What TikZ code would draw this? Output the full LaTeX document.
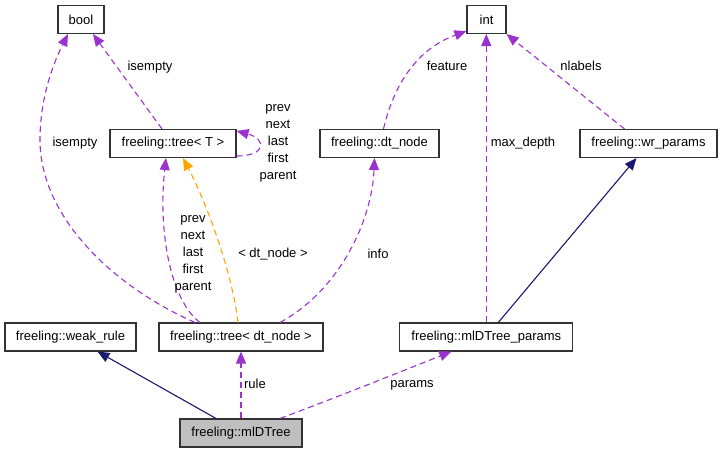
\documentclass[tikz,border=0pt]{standalone}
\usepackage{fontspec}
\setmainfont{Liberation Sans}
\usetikzlibrary{arrows.meta}
\definecolor{edgepurple}{HTML}{9A32CD}
\definecolor{edgeorange}{HTML}{FFA500}
\definecolor{edgenavy}{HTML}{191970}
\begin{document}
\begin{tikzpicture}[x=1pt,y=-1pt,
  cls/.style={draw=black!80, line width=1.1pt, minimum height=28pt, inner sep=0pt,
    font=\fontsize{13}{17}\selectfont, fill=white},
  lbl/.style={font=\fontsize{13}{17}\selectfont, align=center, inner sep=0pt},
  usage/.style={edgepurple, line width=1.1pt, dash pattern=on 6pt off 4pt,
    -{Triangle[length=12pt,width=10pt]}},
  tmpl/.style={edgeorange, line width=1.1pt, dash pattern=on 6pt off 4pt,
    -{Triangle[length=12pt,width=10pt]}},
  inherit/.style={edgenavy, line width=1.1pt, -{Triangle[length=12pt,width=10pt]}}]
\useasboundingbox (0,0) rectangle (721,453);

% nodes
\node[cls, minimum width=46pt] (bool) at (81,19.5) {bool};
\node[cls, minimum width=39pt] (int) at (486.5,19.5) {int};
\node[cls, minimum width=126pt] (treeT) at (173,143.5) {freeling::tree< T >};
\node[cls, minimum width=119pt] (dtnode) at (379.5,143.5) {freeling::dt\_node};
\node[cls, minimum width=137pt] (wrp) at (648.5,143.5) {freeling::wr\_params};
\node[cls, minimum width=131pt] (weak) at (70.5,337) {freeling::weak\_rule};
\node[cls, minimum width=164pt] (tdn) at (241,337) {freeling::tree< dt\_node >};
\node[cls, minimum width=173pt] (mlp) at (486.3,337) {freeling::mlDTree\_params};
\node[cls, minimum width=122pt, fill=black!25] (ml) at (241,433) {freeling::mlDTree};

% edges
\draw[usage] ([xshift=-46pt]tdn.north) .. controls (110,285) and (40,215) .. (40,140)
  .. controls (40,95) and (55,60) .. ([xshift=-13pt]bool.south);
\draw[usage] ([xshift=-11pt]treeT.north) -- ([xshift=12pt]bool.south);
\draw[usage] ([yshift=2pt]treeT.south east) .. controls +(30,0) and +(30,8) .. ([yshift=-2pt]treeT.north east);
\draw[usage] ([xshift=-41pt]tdn.north) .. controls (170,300) and (158,230) .. ([xshift=-7pt]treeT.south);
\draw[tmpl] ([xshift=-3pt]tdn.north) .. controls (232,270) and (205,200) .. ([xshift=10pt]treeT.south);
\draw[usage] ([xshift=39pt]tdn.north) .. controls (340,290) and (372,220) .. ([xshift=-5pt]dtnode.south);
\draw[usage] ([xshift=4pt]dtnode.north) .. controls (395,80) and (420,48) .. ([yshift=3pt]int.south west);
\draw[usage] (mlp.north) -- (mlp.north |- int.south);
\draw[usage] ([xshift=-24pt]wrp.north) -- (int.south east);
\draw[inherit] ([xshift=12pt]mlp.north) -- ([xshift=-12pt]wrp.south);
\draw[inherit] ([xshift=-25pt]ml.north) -- ([xshift=27pt]weak.south);
\draw[usage] (ml.north) -- (tdn.south);
\draw[usage] ([xshift=39pt]ml.north) .. controls (340,396) and (400,372) .. ([xshift=-35pt]mlp.south);

% labels
\node[lbl] (l1) at (150,67) {isempty};
\node[lbl] (l2) at (75,143) {isempty};
\node[lbl] (l3) at (278,143) {prev\\next\\last\\first\\parent};
\node[lbl] (l4) at (193,254) {prev\\next\\last\\first\\parent};
\node[lbl] (l5) at (273,254) {< dt\_node >};
\node[lbl] (l6) at (378,254) {info};
\node[lbl] (l7) at (447,66) {feature};
\node[lbl] (l8) at (523,143) {max\_depth};
\node[lbl] (l9) at (581,66) {nlabels};
\node[lbl] (l10) at (255,384) {rule};
\node[lbl] (l11) at (412,385) {params};
\end{tikzpicture}
\end{document}
